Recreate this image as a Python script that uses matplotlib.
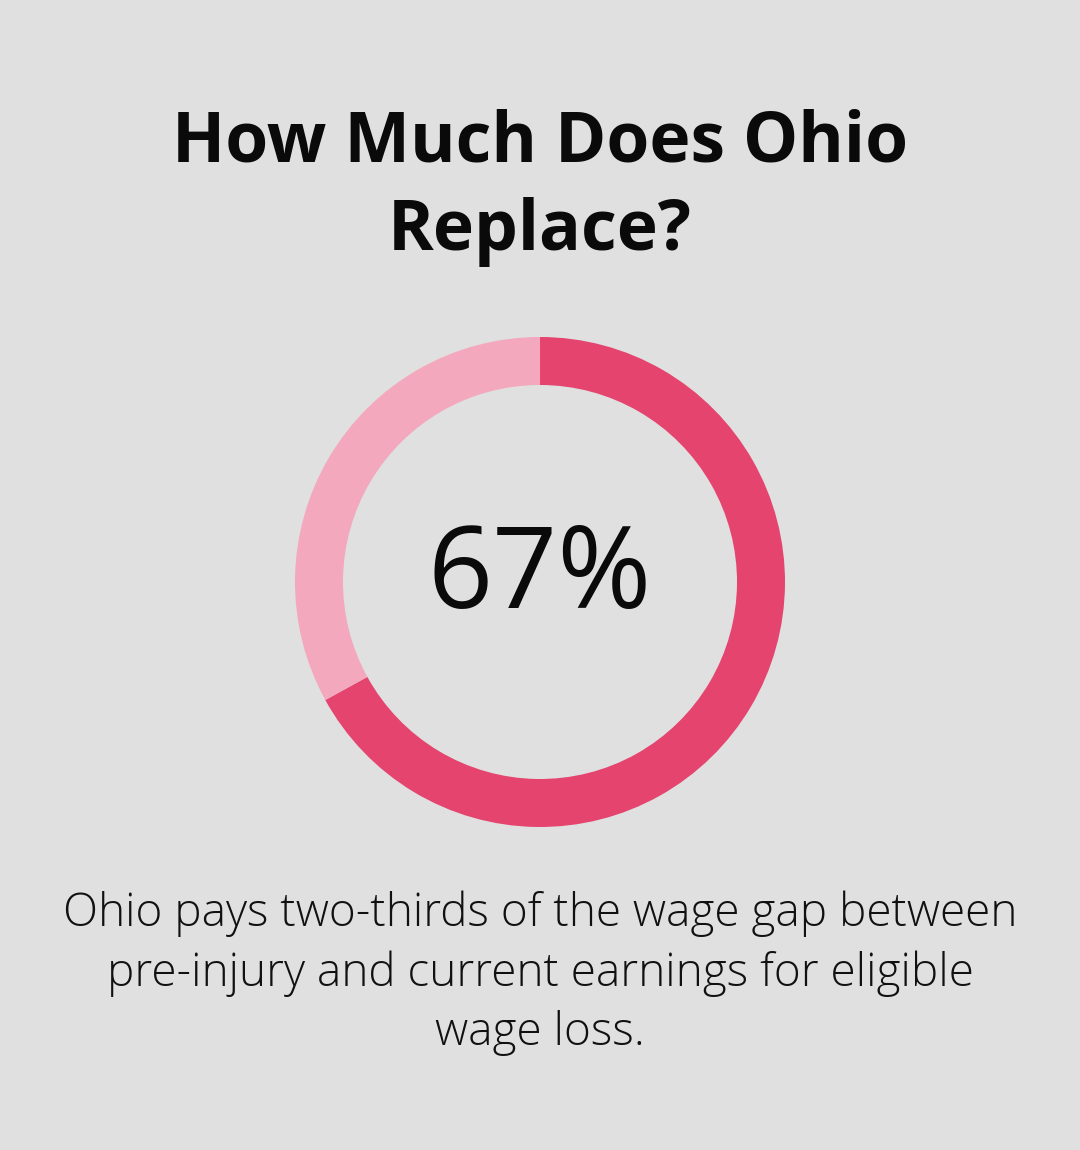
import matplotlib
matplotlib.use("Agg")
import matplotlib.pyplot as plt

values = [67, 33]
colors = ["#E5446F", "#F3A8BE"]
title = "How Much Does Ohio\nReplace?"
center_label = "67%"
caption = "Ohio pays two-thirds of the wage gap between\npre-injury and current earnings for eligible\nwage loss."

bg = "#DFE0DF"
fig = plt.figure(figsize=(10.8, 11.5), dpi=100, facecolor=bg)
ax = fig.add_axes([0, 0, 1, 1])
ax.set_facecolor(bg)
ax.set_xlim(0, 1080); ax.set_ylim(0, 1150); ax.set_aspect("equal"); ax.axis("off")

ax.pie(values, colors=colors, center=(540, 568), radius=245, startangle=90,
       counterclock=False, wedgeprops=dict(width=48, linewidth=0), frame=True)
ax.set_xlim(0, 1080); ax.set_ylim(0, 1150); ax.axis("off")

ax.text(540, 1150-188, title, ha="center", va="center", fontsize=50, fontweight="bold",
        family=["Open Sans", "DejaVu Sans"], linespacing=1.35, color="#0a0a0a")
ax.text(540, 1150-578, center_label, ha="center", va="center", fontsize=82,
        family=["Open Sans", "DejaVu Sans"], color="#0a0a0a")
ax.text(540, 1150-973, caption, ha="center", va="center", fontsize=33, fontweight="light",
        family=["Open Sans", "DejaVu Sans"], linespacing=1.38, color="#111111")
fig.savefig("out.png", dpi=100, facecolor=bg)
